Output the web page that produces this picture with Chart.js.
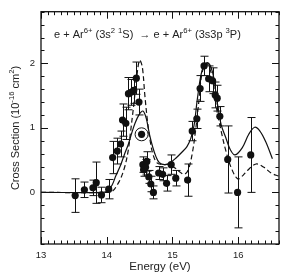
<!DOCTYPE html>
<html>
<head>
<meta charset="utf-8">
<script src="https://cdn.jsdelivr.net/npm/chart.js@4/dist/chart.umd.min.js"></script>
<style>
  body { margin: 0; background: #fff; }
  #wrap { width: 302px; height: 275px; }
</style>
</head>
<body>
<div id="wrap"><canvas id="myChart"></canvas></div>
<script>
// measured cross sections (energy in eV, value in 1e-16 cm2, error bar half height)
var expE   = [13.52, 13.66, 13.79, 13.84, 13.92, 14.03, 14.09, 14.16, 14.21, 14.24, 14.29, 14.33, 14.37, 14.41,
              14.45, 14.49, 14.55, 14.56, 14.59, 14.61, 14.64, 14.67, 14.71, 14.79, 14.85, 14.91, 14.98, 15.05,
              15.23, 15.30, 15.37, 15.42, 15.48, 15.55, 15.61, 15.65, 15.68, 15.72, 15.84, 15.99, 16.19];
var expVal = [-0.05, 0.04, 0.07, 0.15, -0.04, 0.05, 0.54, 0.64, 0.75, 1.12, 1.07, 1.53, 1.55, 1.58,
              1.77, 1.40, 0.43, 0.35, 0.39, 0.48, 0.24, 0.13, 0.00, 0.30, 0.28, 0.14, 0.43, 0.22,
              0.19, 0.95, 1.14, 1.61, 1.96, 1.76, 1.73, 1.51, 1.46, 1.18, 0.51, 0.00, 0.58];
var expErr = [0.26, 0.12, 0.12, 0.32, 0.12, 0.15, 0.25, 0.20, 0.20, 0.25, 0.25, 0.25, 0.20, 0.20,
              0.25, 0.20, 0.12, 0.10, 0.12, 0.15, 0.10, 0.12, 0.10, 0.10, 0.10, 0.12, 0.15, 0.12,
              0.25, 0.15, 0.15, 0.20, 0.15, 0.20, 0.20, 0.20, 0.20, 0.15, 0.52, 0.55, 0.58];

// the circled point
var ringE   = [14.53];
var ringVal = [0.90];

// theory, solid curve
var solidE   = [13.0, 13.95, 14.02, 14.08, 14.14, 14.21, 14.27, 14.33, 14.38, 14.43, 14.49, 14.55, 14.60, 14.65,
                14.70, 14.75, 14.80, 14.88, 14.95, 15.05, 15.15, 15.22, 15.28, 15.33, 15.38, 15.45, 15.53,
                15.61, 15.68, 15.74, 15.81, 15.88, 15.95, 16.06, 16.16, 16.25, 16.33, 16.42, 16.52];
var solidVal = [0, 0, 0.03, 0.11, 0.26, 0.42, 0.59, 0.75, 0.92, 1.07, 1.20, 1.26, 1.15, 0.90,
                0.70, 0.55, 0.46, 0.43, 0.45, 0.53, 0.63, 0.71, 0.84, 1.05, 1.46, 1.89, 2.01,
                1.86, 1.40, 1.05, 0.85, 0.66, 0.58, 0.69, 0.90, 1.01, 0.95, 0.78, 0.52];

// theory, dashed curve
var dashE   = [13.0, 14.05, 14.10, 14.15, 14.21, 14.28, 14.33, 14.36, 14.41, 14.46, 14.50, 14.54, 14.58, 14.62,
               14.66, 14.70, 14.76, 14.84, 14.94, 15.05, 15.12, 15.18, 15.24, 15.30, 15.35, 15.40, 15.45,
               15.52, 15.60, 15.67, 15.74, 15.81, 15.89, 15.99, 16.07, 16.14, 16.27, 16.39, 16.50, 16.62];
var dashVal = [0, 0, 0.03, 0.10, 0.21, 0.42, 0.67, 0.92, 1.35, 1.82, 2.05, 1.95, 1.50, 1.10,
               0.80, 0.60, 0.46, 0.43, 0.43, 0.37, 0.31, 0.28, 0.35, 0.60, 0.95, 1.40, 1.85,
               2.00, 1.80, 1.30, 0.95, 0.65, 0.39, 0.21, 0.26, 0.34, 0.44, 0.39, 0.30, 0.25];

var xLabels = [13, 14, 15, 16];
var yLabels = [0, 1, 2];

var ink = '#111';
var textInk = '#222';
var fontName = '"Liberation Sans", Arial, sans-serif';

function isWhole(v) { return Math.abs(v - Math.round(v)) < 1e-6 }

function pairs(xs, ys) { return xs.map(function (x, i) { return { x: x, y: ys[i] } }) }

// text with superscripts, parts = [[text, isSup], ...]
function richWidth(ctx, parts, size) {
    var w = 0;
    parts.forEach(function (p) {
        ctx.font = (p[1] ? size * 0.7 : size) + 'px ' + fontName;
        w += ctx.measureText(p[0]).width;
    });
    return w;
}
function richText(ctx, parts, x, y, size) {
    parts.forEach(function (p) {
        ctx.font = (p[1] ? size * 0.7 : size) + 'px ' + fontName;
        ctx.fillText(p[0], x, p[1] ? y - size * 0.45 : y);
        x += ctx.measureText(p[0]).width;
    });
}

var decor = {
    id: 'decor',
    beforeDatasetsDraw: function (chart) {
        // error bars
        var ctx = chart.ctx, xs = chart.scales.x, ys = chart.scales.y;
        ctx.save();
        ctx.strokeStyle = ink;
        ctx.lineWidth = 1;
        for (var i = 0; i < expE.length; i++) {
            var px = Math.round(xs.getPixelForValue(expE[i])) + 0.5;
            var top = ys.getPixelForValue(expVal[i] + expErr[i]);
            var bot = ys.getPixelForValue(expVal[i] - expErr[i]);
            ctx.beginPath();
            ctx.moveTo(px, top); ctx.lineTo(px, bot);
            ctx.moveTo(px - 4, top); ctx.lineTo(px + 4, top);
            ctx.moveTo(px - 4, bot); ctx.lineTo(px + 4, bot);
            ctx.stroke();
        }
        ctx.restore();
    },
    afterDraw: function (chart) {
        var ctx = chart.ctx, a = chart.chartArea;
        var xs = chart.scales.x, ys = chart.scales.y;
        ctx.save();
        // frame
        ctx.strokeStyle = ink;
        ctx.lineWidth = 1.3;
        ctx.strokeRect(a.left, a.top, a.right - a.left, a.bottom - a.top);
        // inward ticks on all four sides
        ctx.lineWidth = 1;
        ctx.beginPath();
        xs.ticks.forEach(function (t) {
            var px = Math.round(xs.getPixelForValue(t.value)) + 0.5;
            var len = isWhole(t.value) ? 7 : 3.5;
            ctx.moveTo(px, a.bottom); ctx.lineTo(px, a.bottom - len);
            ctx.moveTo(px, a.top); ctx.lineTo(px, a.top + len);
        });
        ys.ticks.forEach(function (t) {
            var py = Math.round(ys.getPixelForValue(t.value)) + 0.5;
            var len = isWhole(t.value) ? 7 : 3.5;
            ctx.moveTo(a.left, py); ctx.lineTo(a.left + len, py);
            ctx.moveTo(a.right, py); ctx.lineTo(a.right - len, py);
        });
        ctx.stroke();

        ctx.fillStyle = textInk;
        ctx.textBaseline = 'alphabetic';
        ctx.textAlign = 'left';
        // reaction label
        var label = [['e + Ar', 0], ['6+', 1], [' (3s', 0], ['2', 1], [' ', 0], ['1', 1], ['S)  \u2192 e + Ar', 0],
                     ['6+', 1], [' (3s3p ', 0], ['3', 1], ['P)', 0]];
        richText(ctx, label, 54, 38, 11);

        // y axis title, rotated
        var ytitle = [['Cross Section (10', 0], ['-16', 1], [' cm', 0], ['2', 1], [')', 0]];
        var w = richWidth(ctx, ytitle, 11);
        ctx.translate(19, 128);
        ctx.rotate(-Math.PI / 2);
        richText(ctx, ytitle, -w / 2, 0, 11);
        ctx.restore();
    }
};

window.addEventListener('load', function () {
    var ctx = document.getElementById('myChart').getContext('2d');

    var data = {
        datasets: [
            {
                label: 'theory (solid)',
                data: pairs(solidE, solidVal),
                showLine: true,
                borderColor: ink,
                borderWidth: 1.2,
                pointRadius: 0,
                tension: 0.35
            },
            {
                label: 'theory (dashed)',
                data: pairs(dashE, dashVal),
                showLine: true,
                borderColor: ink,
                borderWidth: 1.2,
                borderDash: [5, 3],
                pointRadius: 0,
                tension: 0.35
            },
            {
                label: 'measured',
                data: pairs(expE, expVal),
                pointRadius: 3.6,
                backgroundColor: ink,
                borderWidth: 0
            },
            {
                label: 'measured (circled)',
                data: pairs(ringE, ringVal),
                pointRadius: 3.6,
                backgroundColor: ink,
                borderWidth: 0
            },
            {
                label: 'ring',
                data: pairs(ringE, ringVal),
                pointRadius: 6.5,
                backgroundColor: 'rgba(0,0,0,0)',
                borderColor: ink,
                borderWidth: 1
            }
        ]
    };

    var config = {
        type: 'scatter',
        data: data,
        options: {
            responsive: true,
            maintainAspectRatio: false,
            animation: false,
            layout: { padding: { top: 8, right: 23, left: 0, bottom: 0 } },
            plugins: {
                legend: { display: false },
                tooltip: { enabled: false }
            },
            scales: {
                x: {
                    type: 'linear',
                    min: 13,
                    max: 16.62,
                    grid: { display: false, drawTicks: false },
                    border: { display: false },
                    ticks: {
                        stepSize: 0.1,
                        autoSkip: false,
                        maxRotation: 0,
                        padding: 6,
                        color: textInk,
                        font: { family: fontName, size: 9.5 },
                        callback: function (v) {
                            return isWhole(v) && xLabels.indexOf(Math.round(v)) >= 0 ? String(Math.round(v)) : '';
                        }
                    },
                    title: {
                        display: true,
                        text: 'Energy (eV)',
                        color: textInk,
                        font: { family: fontName, size: 11.5 },
                        padding: { top: 0, bottom: 1 }
                    },
                    afterFit: function (s) { s.height = 31 }
                },
                y: {
                    min: -0.8,
                    max: 2.8,
                    grid: { display: false, drawTicks: false },
                    border: { display: false },
                    ticks: {
                        stepSize: 0.2,
                        autoSkip: false,
                        padding: 6,
                        color: textInk,
                        font: { family: fontName, size: 9.5 },
                        callback: function (v) {
                            return isWhole(v) && yLabels.indexOf(Math.round(v)) >= 0 ? String(Math.round(v)) : '';
                        }
                    },
                    afterFit: function (s) { s.width = 41 }
                }
            }
        },
        plugins: [decor]
    };
    new Chart(ctx, config);
});
</script>
</body>
</html>
